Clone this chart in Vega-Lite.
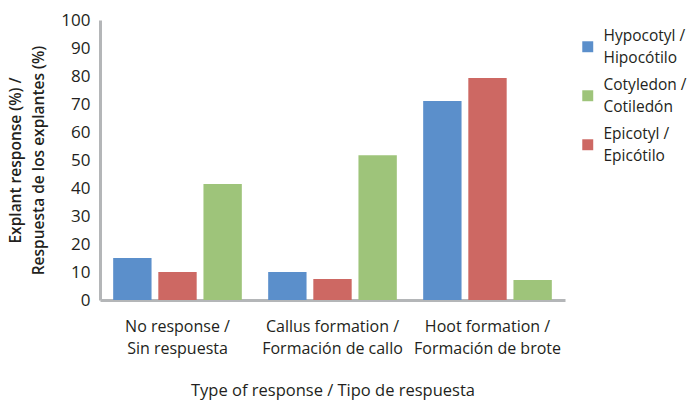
{
  "$schema": "https://vega.github.io/schema/vega-lite/v6.json",
  "width": 465,
  "height": 280,
  "autosize": "none",
  "padding": {"left": 100, "top": 20, "right": 128, "bottom": 102},
  "config": {
    "view": {"stroke": null},
    "font": "Open Sans",
    "text": {"font": "Open Sans"}
  },
  "data": {
    "values": [
      {"response": "No response / Sin respuesta", "tissue": "Hypocotyl / Hipocótilo", "value": 15},
      {"response": "No response / Sin respuesta", "tissue": "Epicotyl / Epicótilo", "value": 10},
      {"response": "No response / Sin respuesta", "tissue": "Cotyledon / Cotiledón", "value": 41.4},
      {"response": "Callus formation / Formación de callo", "tissue": "Hypocotyl / Hipocótilo", "value": 10},
      {"response": "Callus formation / Formación de callo", "tissue": "Epicotyl / Epicótilo", "value": 7.5},
      {"response": "Callus formation / Formación de callo", "tissue": "Cotyledon / Cotiledón", "value": 51.7},
      {"response": "Hoot formation / Formación de brote", "tissue": "Hypocotyl / Hipocótilo", "value": 71.1},
      {"response": "Hoot formation / Formación de brote", "tissue": "Epicotyl / Epicótilo", "value": 79.3},
      {"response": "Hoot formation / Formación de brote", "tissue": "Cotyledon / Cotiledón", "value": 7.1}
    ]
  },
  "mark": {"type": "bar"},
  "encoding": {
    "x": {
      "field": "response",
      "type": "nominal",
      "sort": ["No response / Sin respuesta", "Callus formation / Formación de callo", "Hoot formation / Formación de brote"],
      "scale": {"paddingInner": 0.17, "paddingOuter": 0.085},
      "axis": {
        "title": "Type of response / Tipo de respuesta",
        "titleFontSize": 16.5,
        "titleFontWeight": 500,
        "titleColor": "#231f20",
        "titlePadding": 26,
        "labelAngle": 0,
        "labelFontSize": 16,
        "labelFontWeight": 500,
        "labelColor": "#231f20",
        "labelPadding": 18,
        "labelLineHeight": 22,
        "labelExpr": "split(replace(datum.label, ' / ', ' /|'), '|')",
        "ticks": false,
        "domainColor": "#b4b6b8",
        "domainWidth": 3
      }
    },
    "xOffset": {
      "field": "tissue",
      "type": "nominal",
      "sort": ["Hypocotyl / Hipocótilo", "Epicotyl / Epicótilo", "Cotyledon / Cotiledón"],
      "scale": {"paddingInner": 0.15, "paddingOuter": 0}
    },
    "y": {
      "field": "value",
      "type": "quantitative",
      "scale": {"domain": [0, 100], "nice": false},
      "axis": {
        "title": ["Explant response (%) /", "Respuesta de los explantes (%)"],
        "titleFontSize": 15.5,
        "titleFontWeight": 600,
        "titleColor": "#231f20",
        "titleLineHeight": 23,
        "titlePadding": 14,
        "values": [0, 10, 20, 30, 40, 50, 60, 70, 80, 90, 100],
        "labelFontSize": 17,
        "labelFontWeight": 500,
        "labelColor": "#231f20",
        "labelPadding": 10,
        "ticks": false,
        "grid": false,
        "domainColor": "#b4b6b8",
        "domainWidth": 3
      }
    },
    "color": {
      "field": "tissue",
      "type": "nominal",
      "scale": {
        "domain": ["Hypocotyl / Hipocótilo", "Cotyledon / Cotiledón", "Epicotyl / Epicótilo"],
        "range": ["#5b8fcb", "#9ec47a", "#cd6863"]
      },
      "legend": {
        "title": null,
        "orient": "none",
        "legendX": 480,
        "legendY": 19,
        "symbolType": "square",
        "symbolSize": 120,
        "symbolStrokeWidth": 0,
        "labelFontSize": 15.5,
        "labelFontWeight": 500,
        "labelColor": "#231f20",
        "labelOffset": 8,
        "rowPadding": 10,
        "padding": 0,
        "labelExpr": "split(replace(datum.label, ' / ', ' /|'), '|')",
        "encode": {
          "labels": {"update": {"lineHeight": {"value": 22}, "dy": {"value": -11}}}
        }
      }
    }
  }
}
